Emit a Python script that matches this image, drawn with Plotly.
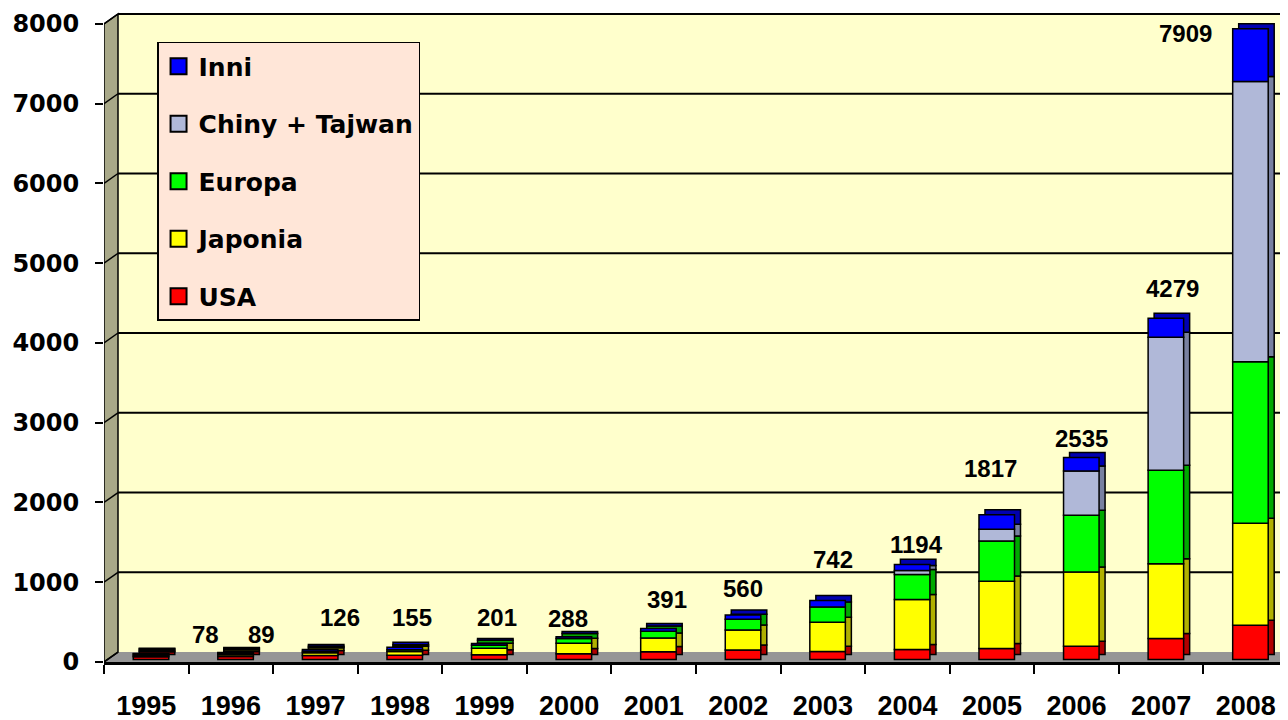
import plotly.graph_objects as go
import numpy as np

years = ["1995", "1996", "1997", "1998", "1999", "2000", "2001",
         "2002", "2003", "2004", "2005", "2006", "2007", "2008"]
usa = [35, 39, 51, 54, 61, 75, 100, 121, 103, 126, 138, 167, 264, 431]
japonia = [16, 21, 35, 49, 80, 129, 171, 251, 364, 628, 846, 930, 938, 1278]
europa = [20, 19, 19, 20, 40, 61, 86, 135, 193, 314, 502, 712, 1172, 2026]
chiny = [0, 0, 0, 0, 0, 0, 0, 0, 0, 50, 147, 557, 1667, 3514]
inni = [7, 10, 21, 32, 20, 23, 34, 53, 82, 76, 184, 169, 238, 660]
totals = [78, 89, 126, 155, 201, 288, 391, 560, 742, 1194, 1817, 2535, 4279, 7909]

series_names = ["USA", "Japonia", "Europa", "Chiny + Tajwan", "Inni"]
series_vals = [usa, japonia, europa, chiny, inni]
front_colors = ["#ff0000", "#ffff00", "#00ff00", "#b0b8d8", "#0000ff"]
side_colors = ["#b00000", "#b0b000", "#00a800", "#7880a0", "#0000b0"]

# label placement offsets (pixels) mimicking the original layout
label_dx = [59, 31, 25, 12, 12, -1, 13, 5, 10, 9, -2, 5, 11, -60]
label_dy = [21, 20, 34, 32, 28, 21, 31, 29, 43, 22, 49, 21, 32, -2]

# geometry constants (style)
BASE = 30          # bars sit slightly behind front plane
DEPTH_X = 0.071    # category units
DEPTH_Y = 63       # value units
WALL_X = 0.1655    # back wall offset in category units
WALL_Y = 125       # back wall offset in value units
BAR_W = 0.42
BAR_OFF = -0.154
N = len(years)

fig = go.Figure()

cum = np.zeros(N)
bases = []
for vals in series_vals:
    bases.append(cum.copy())
    cum = cum + np.array(vals, dtype=float)

def clean(vals):
    return [v if v > 0 else None for v in vals]

# side/top faces (drawn first)
for name, vals, b, sc in zip(series_names, series_vals, bases, side_colors):
    fig.add_trace(go.Bar(
        x=years, y=clean(vals), base=b + BASE + DEPTH_Y,
        width=BAR_W, offset=BAR_OFF + DEPTH_X,
        marker=dict(color=sc, line=dict(color="black", width=1.5)),
        showlegend=False, hoverinfo="skip"))

# front faces
for name, vals, b, fc in zip(series_names, series_vals, bases, front_colors):
    fig.add_trace(go.Bar(
        x=years, y=clean(vals), base=b + BASE, name=name,
        width=BAR_W, offset=BAR_OFF, legendgroup=name, showlegend=False,
        marker=dict(color=fc, line=dict(color="black", width=1.5))))

# legend entries (square keys), top series listed first
for name, fc in reversed(list(zip(series_names, front_colors))):
    fig.add_trace(go.Scatter(
        x=[None], y=[None], mode="markers", name=name, legendgroup=name,
        marker=dict(symbol="square", size=16, color=fc,
                    line=dict(color="black", width=2))))

shapes = []
# back wall
shapes.append(dict(type="rect", xref="paper", yref="y", x0=WALL_X / N, x1=1,
                   y0=WALL_Y, y1=8000 + WALL_Y, fillcolor="#ffffcc",
                   line=dict(width=0), layer="below"))
# floor
shapes.append(dict(type="path", xref="x", yref="y",
                   path=f"M -0.5,0 L {-0.5 + WALL_X},{WALL_Y} L {N - 0.5},{WALL_Y} L {N - 0.5},0 Z",
                   fillcolor="#969696", line=dict(width=0), layer="below"))
# left wall
shapes.append(dict(type="path", xref="x", yref="y",
                   path=f"M -0.5,0 L -0.5,8000 L {-0.5 + WALL_X},{8000 + WALL_Y} L {-0.5 + WALL_X},{WALL_Y} Z",
                   fillcolor="#a8a888", line=dict(color="black", width=1.5), layer="below"))
# gridlines on back wall + diagonals on left wall
for v in range(0, 9000, 1000):
    if v > 0:
        shapes.append(dict(type="line", xref="paper", yref="y", x0=WALL_X / N, x1=1,
                           y0=v + WALL_Y, y1=v + WALL_Y,
                           line=dict(color="black", width=2), layer="below"))
    shapes.append(dict(type="line", xref="x", yref="y", x0=-0.5, x1=-0.5 + WALL_X,
                       y0=v, y1=v + WALL_Y, line=dict(color="black", width=1.5),
                       layer="below"))

annotations = []
for i, (t, dx, dy) in enumerate(zip(totals, label_dx, label_dy)):
    annotations.append(dict(x=i, y=t, xref="x", yref="y", text=f"<b>{t}</b>",
                            showarrow=False, xshift=dx, yshift=dy, yanchor="middle",
                            font=dict(family="Liberation Sans", size=24, color="black")))

fig.update_layout(
    width=1280, height=712,
    margin=dict(l=96, r=0, t=4, b=58),
    paper_bgcolor="white", plot_bgcolor="white",
    barmode="overlay",
    shapes=shapes, annotations=annotations,
    showlegend=True,
    legend=dict(x=0.0448, xanchor="left", y=0.954, yanchor="top",
                bgcolor="#ffe6d8", bordercolor="black", borderwidth=1.5,
                traceorder="grouped", tracegroupgap=22, itemsizing="trace",
                font=dict(family="DejaVu Sans", size=25, color="black", weight="bold")),
    xaxis=dict(type="category", range=[-0.5, N - 0.5], showgrid=False,
               showline=True, linecolor="black", linewidth=3,
               ticks="outside", tickson="boundaries", ticklen=9, tickwidth=2,
               tickcolor="black", ticklabelstandoff=18,
               tickfont=dict(family="Liberation Sans", size=27, color="black", weight="bold")),
    yaxis=dict(range=[0, 8150], tickvals=list(range(0, 9000, 1000)),
               showgrid=False, zeroline=False, showline=False,
               ticks="outside", ticklen=8, tickwidth=1.5, tickcolor="black",
               ticklabelstandoff=11,
               tickfont=dict(family="DejaVu Sans", size=24, color="black", weight="bold")),
)

fig.write_html("out.html")
